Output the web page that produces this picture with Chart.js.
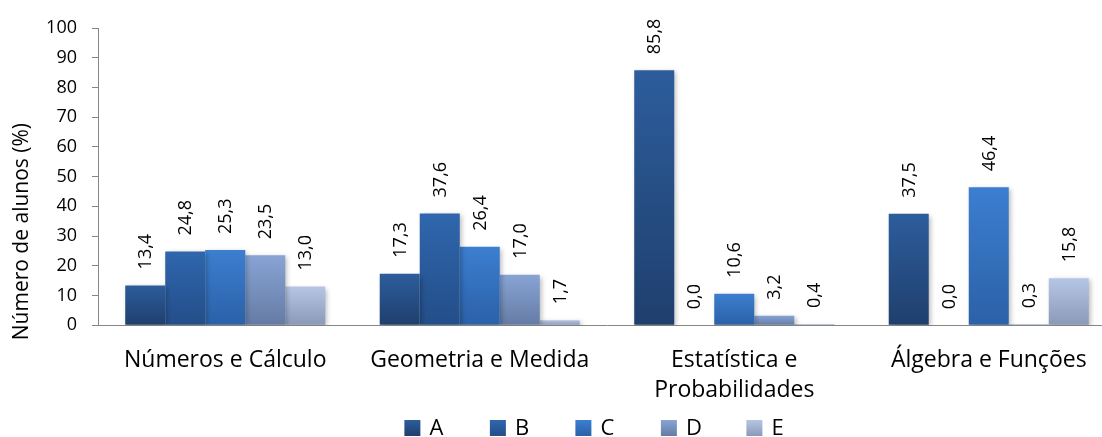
<!DOCTYPE html>
<html>
<head>
<meta charset="utf-8">
<script src="https://cdn.jsdelivr.net/npm/chart.js@4/dist/chart.umd.min.js"></script>
<style>
  html, body { margin: 0; padding: 0; background: #fff; overflow: hidden; }
  #wrap { position: relative; width: 1116px; height: 437px; }
</style>
</head>
<body>
<div id="wrap"><canvas id="chart"></canvas></div>
<script>
// Percentage of students per answer option, by theme
const categories = ["Números e Cálculo", "Geometria e Medida", ["Estatística e", "Probabilidades"], "Álgebra e Funções"];
const seriesNames = ["A", "B", "C", "D", "E"];
const valuesA = [13.4, 17.3, 85.8, 37.5];
const valuesB = [24.8, 37.6, 0.0, 0.0];
const valuesC = [25.3, 26.4, 10.6, 46.4];
const valuesD = [23.5, 17.0, 3.2, 0.3];
const valuesE = [13.0, 1.7, 0.4, 15.8];
const yTicks = [0, 10, 20, 30, 40, 50, 60, 70, 80, 90, 100];
const yTitle = "Número de alunos (%)";

// top / bottom shades of each series
const shades = [
  ["#2d5d9c", "#1f3f6d"],
  ["#2f66ad", "#234e89"],
  ["#3c7ed0", "#2b61a7"],
  ["#88a4d5", "#657ba4"],
  ["#b5c6e4", "#8b99b8"]
];

const FONT = "'Open Sans', Lato, sans-serif";

function barGradient(i) {
  return function (ctx) {
    const chart = ctx.chart;
    const area = chart.chartArea;
    if (!area || ctx.type !== 'data' || !chart.scales.y) return shades[i][0];
    const y = chart.scales.y;
    let top = y.getPixelForValue(ctx.raw);
    let bot = y.getPixelForValue(0);
    if (bot - top < 1) top = bot - 1;
    const g = chart.ctx.createLinearGradient(0, top, 0, bot);
    g.addColorStop(0, shades[i][0]);
    g.addColorStop(1, shades[i][1]);
    return g;
  };
}

const seriesValues = [valuesA, valuesB, valuesC, valuesD, valuesE];
const datasets = seriesNames.map((name, i) => ({
  label: name,
  data: seriesValues[i],
  backgroundColor: barGradient(i),
  borderWidth: 0,
  categoryPercentage: 0.786,
  barPercentage: 1.0
}));

// soft drop shadow under the bars
const barShadow = {
  id: 'barShadow',
  beforeDatasetsDraw(chart) {
    const c = chart.ctx;
    c.save();
    c.shadowColor = 'rgba(0,0,0,0.28)';
    c.shadowBlur = 5;
    c.shadowOffsetX = 2;
    c.shadowOffsetY = 2;
  },
  afterDatasetsDraw(chart) {
    chart.ctx.restore();
  }
};

// vertical value labels above each bar
const valueLabels = {
  id: 'valueLabels',
  afterDatasetsDraw(chart) {
    const c = chart.ctx;
    c.save();
    c.shadowColor = 'transparent';
    c.font = "18px " + FONT;
    c.fillStyle = "#000";
    c.textAlign = "left";
    c.textBaseline = "middle";
    chart.data.datasets.forEach((ds, di) => {
      const meta = chart.getDatasetMeta(di);
      meta.data.forEach((el, idx) => {
        const v = ds.data[idx];
        const txt = v.toFixed(1).replace('.', ',');
        c.save();
        c.translate(el.x + 1, el.y - 16);
        c.rotate(-Math.PI / 2);
        c.fillText(txt, 0, 0);
        c.restore();
      });
    });
    c.restore();
  }
};

// rotated y-axis title, sitting a little below the axis midpoint
const axisTitle = {
  id: 'axisTitle',
  afterDraw(chart) {
    const c = chart.ctx;
    const area = chart.chartArea;
    c.save();
    c.font = "21px " + FONT;
    c.fillStyle = "#000";
    c.textAlign = "center";
    c.textBaseline = "middle";
    c.translate(22, (area.top + area.bottom) / 2 + 55);
    c.rotate(-Math.PI / 2);
    c.fillText(yTitle, 0, 0);
    c.restore();
  }
};

// legend row along the bottom edge
const bottomLegend = {
  id: 'bottomLegend',
  afterDraw(chart) {
    const c = chart.ctx;
    const area = chart.chartArea;
    const box = 16, gap = 9, step = 85.5;
    c.save();
    c.font = "22px " + FONT;
    c.textBaseline = "middle";
    c.textAlign = "left";
    const n = seriesNames.length;
    const lastW = c.measureText(seriesNames[n - 1]).width;
    const total = (n - 1) * step + box + gap + lastW;
    let x = (area.left + area.right) / 2 - 13 - total / 2;
    const yMid = 428;
    seriesNames.forEach((name, i) => {
      const g = c.createLinearGradient(0, yMid - box / 2, 0, yMid + box / 2);
      g.addColorStop(0, shades[i][0]);
      g.addColorStop(1, shades[i][1]);
      c.fillStyle = g;
      c.fillRect(x, yMid - box / 2, box, box);
      c.fillStyle = "#000";
      c.fillText(name, x + box + gap, yMid + 1);
      x += step;
    });
    c.restore();
  }
};

new Chart(document.getElementById('chart'), {
  type: 'bar',
  data: { labels: categories, datasets: datasets },
  plugins: [barShadow, valueLabels, axisTitle, bottomLegend],
  options: {
    responsive: true,
    maintainAspectRatio: false,
    animation: false,
    layout: { padding: { top: 28, right: 0, left: 0, bottom: 20 } },
    plugins: {
      tooltip: { enabled: false },
      legend: { display: false }
    },
    scales: {
      x: {
        grid: { display: false },
        border: { display: true, color: "#868686", width: 1 },
        ticks: {
          font: { size: 23, family: FONT, lineHeight: 1.3 },
          color: "#000",
          padding: 12,
          maxRotation: 0,
          autoSkip: false
        }
      },
      y: {
        min: 0,
        max: 100,
        afterBuildTicks(scale) {
          scale.ticks = yTicks.map(v => ({ value: v }));
        },
        afterFit(scale) {
          scale.width = 98;
        },
        grid: {
          display: true,
          drawOnChartArea: false,
          drawTicks: true,
          tickLength: 6,
          color: "#868686"
        },
        border: { display: true, color: "#868686", width: 1 },
        ticks: {
          font: { size: 18, family: FONT },
          color: "#000",
          padding: 15
        },
        title: { display: false }
      }
    }
  }
});
</script>
</body>
</html>
